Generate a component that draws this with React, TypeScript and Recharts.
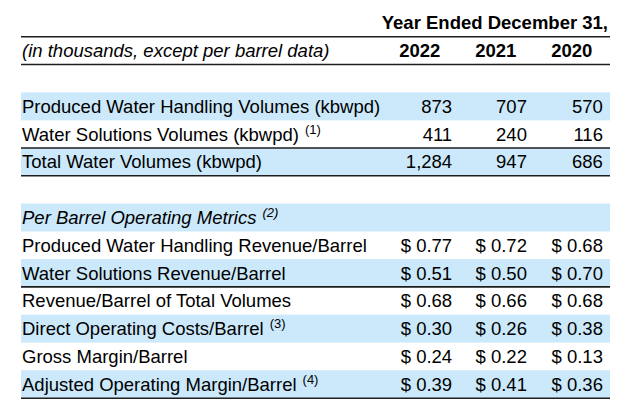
import React from "react";
import { ComposedChart, Bar, XAxis, YAxis } from "recharts";

// Column headers
const years = ["2022", "2021", "2020"];

// Water volumes (kbwpd)
const volumeLabels = [
  "Produced Water Handling Volumes (kbwpd)",
  "Water Solutions Volumes (kbwpd)",
  "Total Water Volumes (kbwpd)",
];
const volumeNotes = ["", "(1)", ""];
const volumes2022 = [873, 411, 1284];
const volumes2021 = [707, 240, 947];
const volumes2020 = [570, 116, 686];

// Per barrel operating metrics ($)
const metricLabels = [
  "Produced Water Handling Revenue/Barrel",
  "Water Solutions Revenue/Barrel",
  "Revenue/Barrel of Total Volumes",
  "Direct Operating Costs/Barrel",
  "Gross Margin/Barrel",
  "Adjusted Operating Margin/Barrel",
];
const metricNotes = ["", "", "", "(3)", "", "(4)"];
const metrics2022 = [0.77, 0.51, 0.68, 0.3, 0.24, 0.39];
const metrics2021 = [0.72, 0.5, 0.66, 0.26, 0.22, 0.41];
const metrics2020 = [0.68, 0.7, 0.68, 0.38, 0.13, 0.36];

const fmtVolume = (v: number) => v.toLocaleString("en-US");
const fmtDollar = (v: number) => `$ ${v.toFixed(2)}`;

interface Row {
  id: string;
  kind: "title" | "head" | "blank" | "line" | "section";
  label?: string;
  note?: string;
  values?: string[];
  span: number;
}

const rows: Row[] = [
  { id: "title", kind: "title", label: "Year Ended December 31,", span: 1 },
  {
    id: "head",
    kind: "head",
    label: "(in thousands, except per barrel data)",
    values: years,
    span: 1,
  },
  { id: "gap1", kind: "blank", span: 1 },
  ...volumeLabels.map((label, i) => ({
    id: `vol${i}`,
    kind: "line" as const,
    label,
    note: volumeNotes[i],
    values: [volumes2022[i], volumes2021[i], volumes2020[i]].map(fmtVolume),
    span: 1,
  })),
  { id: "gap2", kind: "blank", span: 1 },
  {
    id: "section",
    kind: "section",
    label: "Per Barrel Operating Metrics",
    note: "(2)",
    span: 1,
  },
  ...metricLabels.map((label, i) => ({
    id: `met${i}`,
    kind: "line" as const,
    label,
    note: metricNotes[i],
    values: [metrics2022[i], metrics2021[i], metrics2020[i]].map(fmtDollar),
    span: 1,
  })),
];

// styling
const SHADE = "#cce9fb";
const RULE = "#1e1e1e";
const FONT = "'Liberation Sans', Arial, Helvetica, sans-serif";
const FONT_SIZE = 18.5;
const shaded = new Set(["vol0", "vol2", "section", "met1", "met3", "met5"]);
const ruleAbove = new Set(["head", "gap1", "vol2", "gap2", "met2"]);
const ruleBelow = new Set(["met5"]);
// value columns: right edge as share of table width; header centres likewise
const valueRight = [0.732, 0.859, 0.988];
const headCenter = [0.677, 0.806, 0.935];

const RowShape = (props: any) => {
  const { x, y, width, height, payload } = props;
  const row: Row = payload;
  const base = y + height * 0.73;
  const italic = row.kind === "head" || row.kind === "section";

  return (
    <g>
      <rect
        x={x}
        y={y}
        width={width}
        height={height}
        fill={shaded.has(row.id) ? SHADE : "transparent"}
      />
      {row.kind === "title" && (
        <text
          x={x + width - 2}
          y={base}
          textAnchor="end"
          fontWeight="bold"
          fontSize={FONT_SIZE}
          fontFamily={FONT}
          fill="#000"
        >
          {row.label}
        </text>
      )}
      {row.kind !== "title" && row.label && (
        <text
          x={x + 1}
          y={base}
          fontSize={FONT_SIZE}
          fontFamily={FONT}
          fontStyle={italic ? "italic" : "normal"}
          fill="#000"
        >
          <tspan>{row.label}</tspan>
          {row.note && (
            <tspan dx={6} dy={-7} fontSize={13}>
              {row.note}
            </tspan>
          )}
        </text>
      )}
      {row.values &&
        row.values.map((v, i) => (
          <text
            key={i}
            x={
              row.kind === "head"
                ? x + width * headCenter[i]
                : x + width * valueRight[i]
            }
            y={base}
            textAnchor={row.kind === "head" ? "middle" : "end"}
            fontWeight={row.kind === "head" ? "bold" : "normal"}
            fontSize={FONT_SIZE}
            fontFamily={FONT}
            fill="#000"
          >
            {v}
          </text>
        ))}
      {ruleAbove.has(row.id) && (
        <line x1={x} x2={x + width} y1={y} y2={y} stroke={RULE} strokeWidth={1.6} />
      )}
      {ruleBelow.has(row.id) && (
        <line
          x1={x}
          x2={x + width}
          y1={y + height}
          y2={y + height}
          stroke={RULE}
          strokeWidth={1.6}
        />
      )}
    </g>
  );
};

export default function App() {
  return (
    <div
      style={{
        position: "absolute",
        left: 0,
        top: 0,
        width: 640,
        height: 415,
        background: "#fff",
      }}
    >
      <ComposedChart
        width={640}
        height={415}
        data={rows}
        layout="vertical"
        barCategoryGap={0}
        margin={{ top: 9, right: 30, bottom: 17, left: 21 }}
      >
        <XAxis type="number" domain={[0, 1]} hide />
        <YAxis type="category" dataKey="id" hide />
        <Bar
          dataKey="span"
          shape={RowShape}
          isAnimationActive={false}
        />
      </ComposedChart>
    </div>
  );
}
